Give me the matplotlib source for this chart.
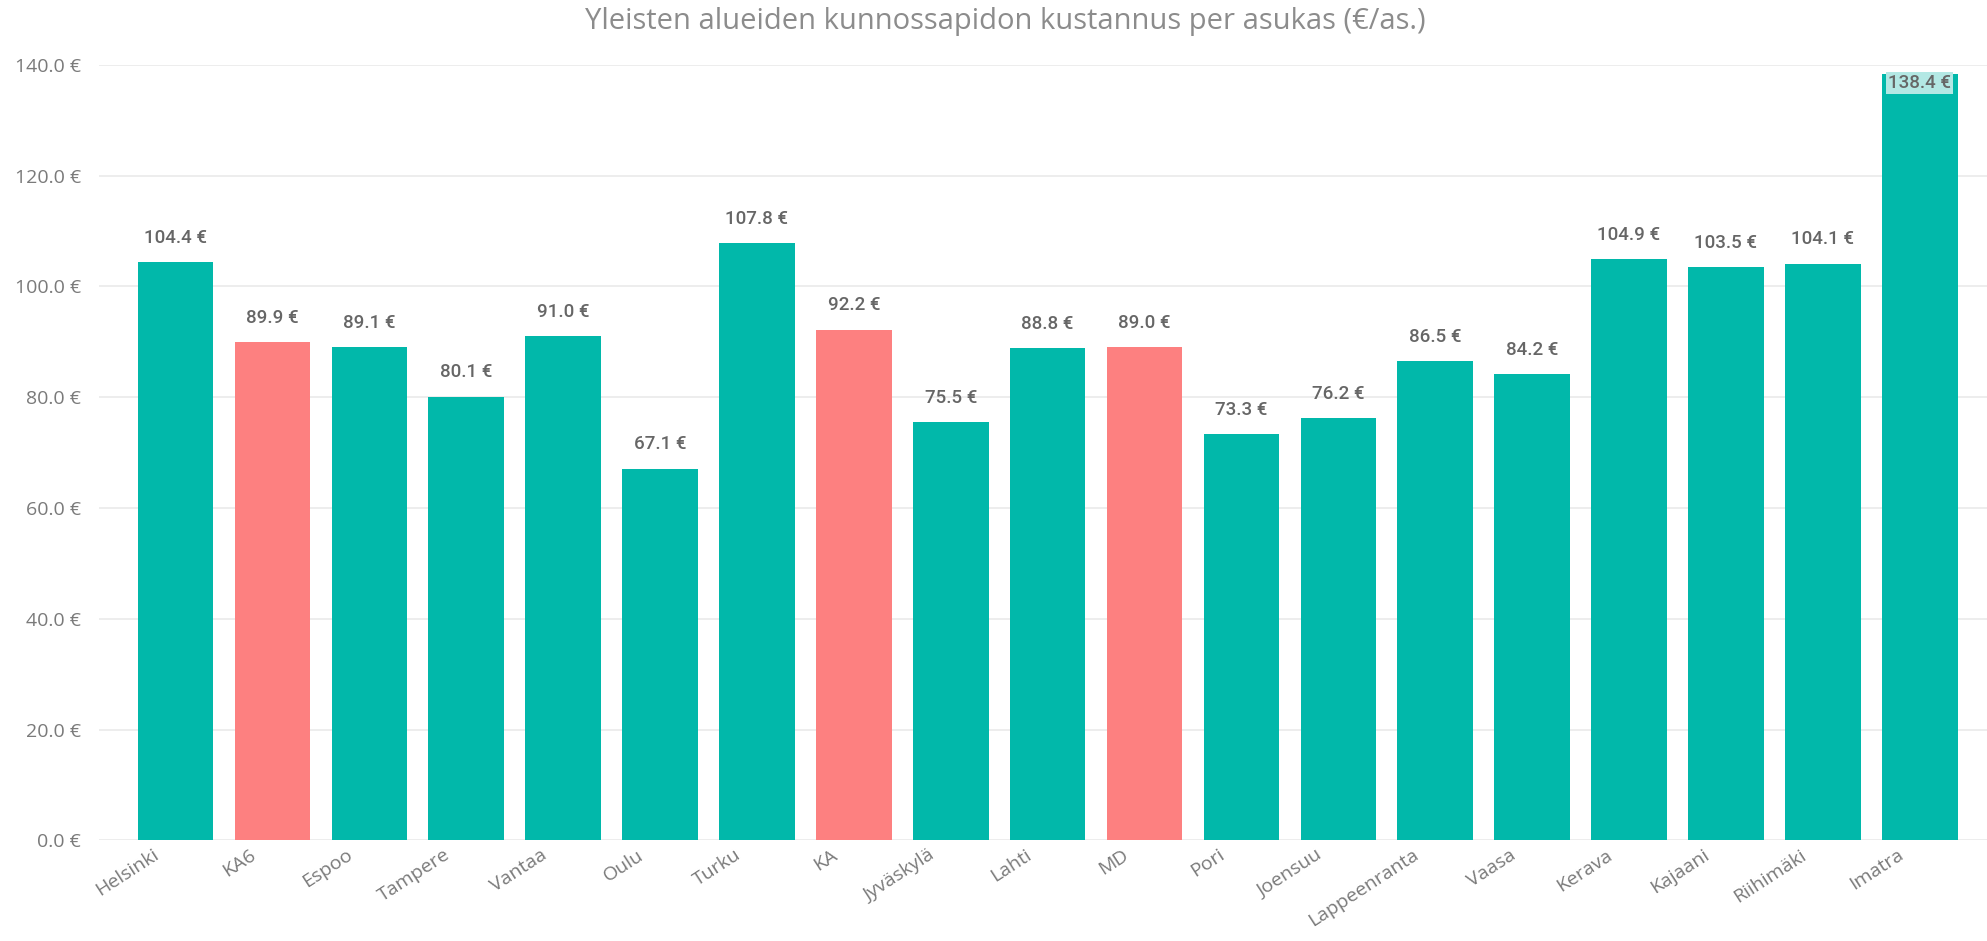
import matplotlib.pyplot as plt
import matplotlib.transforms as mtransforms
import numpy as np

# Values (EUR per inhabitant)
cities = ['Helsinki', 'KA6', 'Espoo', 'Tampere', 'Vantaa', 'Oulu', 'Turku', 'KA',
          'Jyväskylä', 'Lahti', 'MD', 'Pori', 'Joensuu', 'Lappeenranta', 'Vaasa',
          'Kerava', 'Kajaani', 'Riihimäki', 'Imatra']
costs = [104.4, 89.9, 89.1, 80.1, 91.0, 67.1, 107.8, 92.2,
         75.5, 88.8, 89.0, 73.3, 76.2, 86.5, 84.2,
         104.9, 103.5, 104.1, 138.4]
highlight = ['KA6', 'KA', 'MD']
y_ticks = [0, 20, 40, 60, 80, 100, 120, 140]

TEAL = '#01B8AA'
RED = '#FD8080'
GRAY = '#7A7A7A'

fig = plt.figure(figsize=(19.87, 9.41), dpi=100)
ax = fig.add_axes([0.0498, 0.107, 0.95, 0.824])

x = np.arange(len(cities))
colors = [RED if c in highlight else TEAL for c in cities]
ax.bar(x, costs, width=0.78, color=colors, zorder=2)

ax.set_ylim(0, 140)
ax.set_xlim(-0.79, len(cities) - 1 + 0.69)
ax.set_yticks(y_ticks)
ax.set_yticklabels([f'{v:.1f} €' for v in y_ticks], fontsize=14,
                   color=GRAY, family='Open Sans')
ax.tick_params(axis='y', length=0, pad=13)
ax.grid(True, axis='y', color='#EAEAEA', linewidth=1.2, zorder=0)

ax.set_xticks(x)
ax.set_xticklabels(cities, rotation=33, ha='right', rotation_mode='anchor',
                   fontsize=14, color=GRAY, family='Open Sans')
ax.tick_params(axis='x', length=0, pad=4)
# the rotated labels sit a bit left of the bar centre in the original
shift = mtransforms.ScaledTranslation(-23 / 100, 0, fig.dpi_scale_trans)
for lbl in ax.get_xticklabels():
    lbl.set_transform(lbl.get_transform() + shift)

for s in ax.spines.values():
    s.set_visible(False)

# data labels
for xi, v in zip(x, costs):
    if v > 135:
        ax.text(xi, v, f'{v:.1f} €', ha='center', va='top', fontsize=13.5,
                color='#666666', family='Roboto', fontweight='medium',
                clip_on=False, zorder=4,
                bbox=dict(boxstyle='square,pad=0.1', facecolor='#B3E8E4',
                          edgecolor='none'))
    else:
        ax.annotate(f'{v:.1f} €', (xi, v), xytext=(0, 11),
                    textcoords='offset points', ha='center', va='bottom',
                    fontsize=13.5, color='#666666', family='Roboto',
                    fontweight='medium')

fig.text(0.506, 0.977, 'Yleisten alueiden kunnossapidon kustannus per asukas (€/as.)',
         ha='center', va='center', fontsize=21, color='#8C8C8C', family='Open Sans')

fig.savefig('out.png', dpi=100, facecolor='white')
